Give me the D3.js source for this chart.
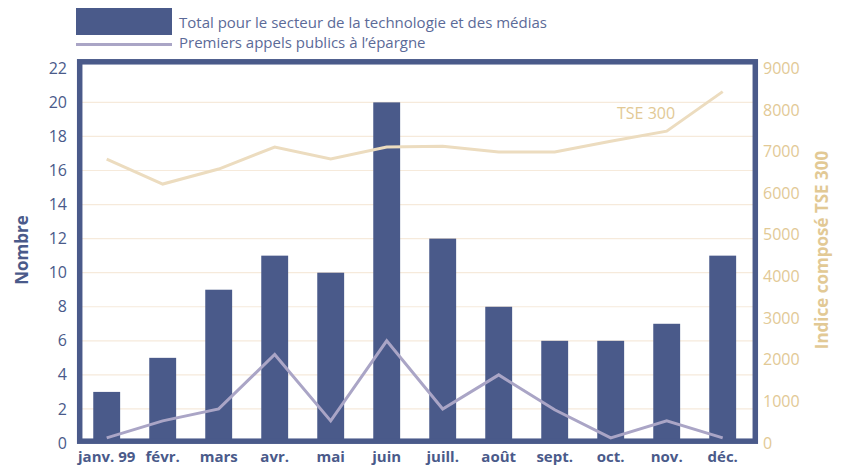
<!DOCTYPE html>
<html>
<head>
<meta charset="utf-8">
<script src="https://cdn.jsdelivr.net/npm/d3@7"></script>
<style>
  body { margin: 0; background: #fff; }
  text { font-family: "Open Sans", "Noto Sans", sans-serif; }
</style>
</head>
<body>
<script>
const months = ['janv. 99', 'févr.', 'mars', 'avr.', 'mai', 'juin', 'juill.', 'août', 'sept.', 'oct.', 'nov.', 'déc.'];
const techTotal = [3, 5, 9, 11, 10, 20, 12, 8, 6, 6, 7, 11];
const ipoCount = [0.3, 1.3, 2, 5.2, 1.3, 6, 2, 4, 1.95, 0.3, 1.3, 0.3];
const tse300 = [6820, 6220, 6580, 7110, 6820, 7110, 7130, 6990, 6990, 7250, 7490, 8440];
const leftTicks = [0, 2, 4, 6, 8, 10, 12, 14, 16, 18, 20, 22];
const rightTicks = [0, 1000, 2000, 3000, 4000, 5000, 6000, 7000, 8000, 9000];

const width = 841, height = 469;
const navy = '#4a5a8a', lilac = '#aaa5c6', sand = '#ecdcbf', sandText = '#e2c995';

const svg = d3.select('body').append('svg')
    .attr('width', width)
    .attr('height', height);

const x = d3.scaleBand().domain(months).range([78.7, 750.7]).paddingInner(0.52).paddingOuter(0.26);
const y = d3.scaleLinear().domain([0, 22]).range([443, 68.3]);
const yR = d3.scaleLinear().domain([0, 9000]).range([443, 68.3]);
const cx = d => x(d) + x.bandwidth() / 2;

// gridlines
svg.append('g')
    .selectAll('line')
    .data(leftTicks.filter(t => t > 0 && t < 22))
    .enter().append('line')
    .attr('x1', 82).attr('x2', 753)
    .attr('y1', d => y(d)).attr('y2', d => y(d))
    .attr('stroke', '#f6eadb').attr('stroke-width', 1.2);

// bars
svg.append('g')
    .selectAll('rect')
    .data(techTotal)
    .enter().append('rect')
    .attr('x', (d, i) => x(months[i]))
    .attr('y', d => y(d))
    .attr('width', x.bandwidth())
    .attr('height', d => y(0) - y(d))
    .attr('fill', navy);

// frame
svg.append('rect')
    .attr('x', 79.7).attr('y', 61.8)
    .attr('width', 675.6).attr('height', 379.4)
    .attr('fill', 'none')
    .attr('stroke', navy)
    .attr('stroke-width', 5.5);

// TSE 300 line
const lineR = d3.line().x((d, i) => cx(months[i])).y(d => yR(d));
svg.append('path')
    .datum(tse300)
    .attr('d', lineR)
    .attr('fill', 'none')
    .attr('stroke', sand)
    .attr('stroke-width', 3);

svg.append('text')
    .attr('x', 617).attr('y', 119)
    .attr('fill', sandText)
    .style('font-size', '16px')
    .text('TSE 300');

// IPO line
const lineL = d3.line().x((d, i) => cx(months[i])).y(d => y(d));
svg.append('path')
    .datum(ipoCount)
    .attr('d', lineL)
    .attr('fill', 'none')
    .attr('stroke', lilac)
    .attr('stroke-width', 3);

// left axis
const axL = svg.append('g')
    .attr('transform', 'translate(67,0)')
    .call(d3.axisLeft(y).tickValues(leftTicks).tickSize(0).tickPadding(0));
axL.select('.domain').remove();
axL.selectAll('text')
    .attr('fill', navy)
    .style('font-size', '16px');

// right axis
const axR = svg.append('g')
    .attr('transform', 'translate(763,0)')
    .call(d3.axisRight(yR).tickValues(rightTicks).tickSize(0).tickPadding(0).tickFormat(d3.format('d')));
axR.select('.domain').remove();
axR.selectAll('text')
    .attr('fill', sandText)
    .style('font-size', '16px');

// month labels
const axB = svg.append('g')
    .attr('transform', 'translate(0,447)')
    .call(d3.axisBottom(x).tickSize(0).tickPadding(4));
axB.select('.domain').remove();
axB.selectAll('text')
    .attr('fill', navy)
    .style('font-size', '15px')
    .style('font-weight', 'bold');

// axis titles
svg.append('text')
    .attr('transform', 'translate(28,250) rotate(-90)')
    .attr('text-anchor', 'middle')
    .attr('fill', navy)
    .style('font-size', '17px')
    .style('font-weight', 'bold')
    .text('Nombre');

svg.append('text')
    .attr('transform', 'translate(828,250) rotate(-90)')
    .attr('text-anchor', 'middle')
    .attr('fill', sandText)
    .style('font-size', '17px')
    .style('font-weight', 'bold')
    .text('Indice composé TSE 300');

// legend
const legend = svg.append('g');
legend.append('rect')
    .attr('x', 76).attr('y', 8)
    .attr('width', 96).attr('height', 27)
    .attr('fill', navy);
legend.append('line')
    .attr('x1', 76).attr('x2', 172)
    .attr('y1', 44.5).attr('y2', 44.5)
    .attr('stroke', lilac).attr('stroke-width', 3);
legend.append('text')
    .attr('x', 179).attr('y', 28)
    .attr('fill', '#5b6a98')
    .style('font-size', '15px')
    .text('Total pour le secteur de la technologie et des médias');
legend.append('text')
    .attr('x', 179).attr('y', 48)
    .attr('fill', '#5b6a98')
    .style('font-size', '15px')
    .text('Premiers appels publics à l’épargne');
</script>
</body>
</html>
